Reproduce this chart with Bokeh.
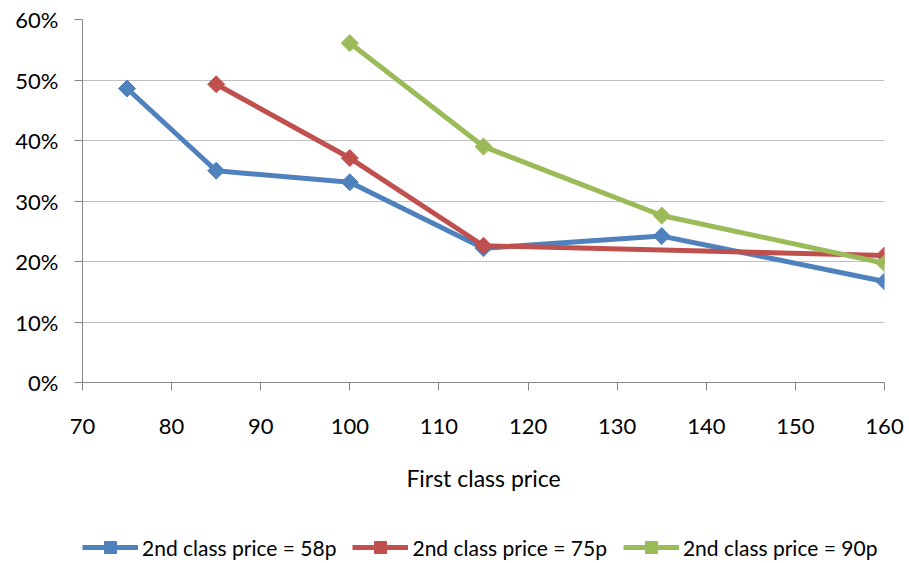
import math
from bokeh.plotting import figure
from bokeh.layouts import column
from bokeh.models import (ColumnDataSource, Legend, LegendItem, FixedTicker,
                          NumeralTickFormatter, Range1d)
from bokeh.embed import file_html
from bokeh.resources import INLINE

# First class price (x) and share (y) for each 2nd class price
price_58 = [75, 85, 100, 115, 135, 160]
share_58 = [0.486, 0.350, 0.331, 0.222, 0.242, 0.167]

price_75 = [85, 100, 115, 160]
share_75 = [0.493, 0.371, 0.226, 0.210]

price_90 = [100, 115, 135, 160]
share_90 = [0.561, 0.390, 0.276, 0.197]

series_names = ["2nd class price = 58p", "2nd class price = 75p", "2nd class price = 90p"]
series_colors = ["#4F81BD", "#C0504D", "#9BBB59"]

x_ticks = [70, 80, 90, 100, 110, 120, 130, 140, 150, 160]
y_ticks = [0, 0.1, 0.2, 0.3, 0.4, 0.5, 0.6]

FONT = "Lato"

p = figure(width=909, height=500, output_backend="svg", toolbar_location=None,
           x_range=Range1d(70, 160), y_range=Range1d(0, 0.6),
           min_border_left=82, min_border_right=25, min_border_top=19,
           min_border_bottom=118)
p.outline_line_color = None
p.background_fill_color = "white"

# Axes
for ax in (p.xaxis[0], p.yaxis[0]):
    ax.axis_line_color = "#868686"
    ax.major_tick_line_color = "#868686"
    ax.major_tick_in = 0
    ax.major_tick_out = 8
    ax.minor_tick_line_color = None
    ax.major_label_text_font = FONT
    ax.major_label_text_font_size = "22px"
    ax.major_label_text_color = "#000000"

p.xaxis.ticker = FixedTicker(ticks=x_ticks)
p.yaxis.ticker = FixedTicker(ticks=y_ticks)
p.yaxis.formatter = NumeralTickFormatter(format="0%")
p.yaxis.major_label_standoff = 16
p.xaxis.major_label_standoff = 28
p.xaxis.axis_label = "First class price"
p.xaxis.axis_label_text_font = FONT
p.xaxis.axis_label_text_font_size = "23px"
p.xaxis.axis_label_text_font_style = "normal"
p.xaxis.axis_label_text_color = "#000000"
p.xaxis.axis_label_standoff = 27

p.xgrid.grid_line_color = None
p.ygrid.grid_line_color = "#BFBFBF"
p.ygrid.grid_line_width = 1

# Legend strip under the chart; its swatch renderers sit outside the visible range
lg = figure(width=909, height=63, output_backend="svg", toolbar_location=None,
            x_range=Range1d(0, 1), y_range=Range1d(0, 1),
            min_border=0, x_axis_type=None, y_axis_type=None)
lg.outline_line_color = None
lg.xgrid.grid_line_color = None
lg.ygrid.grid_line_color = None

items = []
for xs, ys, name, color in [(price_58, share_58, series_names[0], series_colors[0]),
                            (price_75, share_75, series_names[1], series_colors[1]),
                            (price_90, share_90, series_names[2], series_colors[2])]:
    src = ColumnDataSource(dict(x=xs, y=ys))
    p.line("x", "y", source=src, line_color=color, line_width=5)
    p.scatter("x", "y", source=src, marker="square", size=12,
              angle=math.pi / 4, fill_color=color, line_color=color)
    swatch = ColumnDataSource(dict(x=[5, 6], y=[5, 6]))
    ln = lg.line("x", "y", source=swatch, line_color=color, line_width=5)
    mk = lg.scatter("x", "y", source=swatch, marker="square", size=12,
                    angle=math.pi / 4, fill_color=color, line_color=color)
    items.append(LegendItem(label=name, renderers=[ln, mk]))

legend = Legend(items=items, orientation="horizontal", location=(0, 1),
                label_text_font=FONT, label_text_font_size="21px",
                label_text_color="#000000", glyph_width=56, glyph_height=30,
                label_standoff=4, spacing=16, padding=0, margin=0,
                border_line_color=None, background_fill_alpha=0)
lg.add_layout(legend, "center")

open("out.html", "w").write(file_html(column(p, lg, spacing=0), INLINE))
